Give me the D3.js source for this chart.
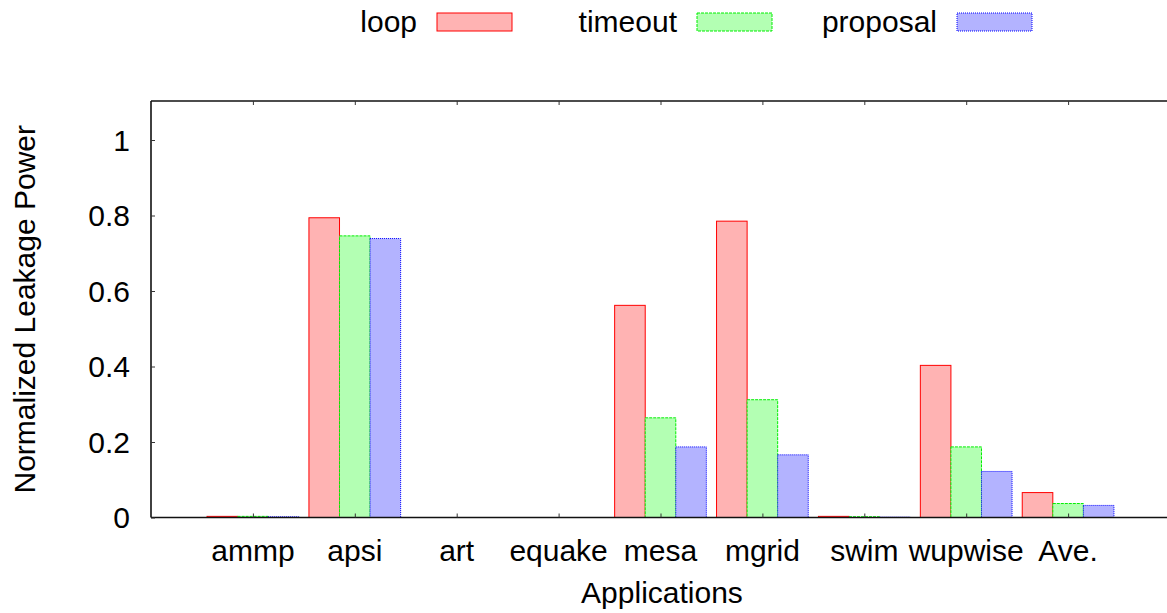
<!DOCTYPE html>
<html>
<head>
<meta charset="utf-8">
<script src="https://cdn.jsdelivr.net/npm/d3@7"></script>
<style>
  html, body { margin: 0; padding: 0; background: #fff; }
  svg { display: block; font-family: "Liberation Sans", Arial, Helvetica, sans-serif; }
</style>
</head>
<body>
<svg id="chart" width="1167" height="613"></svg>
<script>
// ---- data ----
const categories = ["ammp", "apsi", "art", "equake", "mesa", "mgrid", "swim", "wupwise", "Ave."];
const seriesNames = ["loop", "timeout", "proposal"];
const loopValues     = [0.003, 0.794, 0, 0, 0.562, 0.785, 0.003, 0.403, 0.066];
const timeoutValues  = [0.003, 0.746, 0, 0, 0.264, 0.312, 0.002, 0.187, 0.037];
const proposalValues = [0.002, 0.739, 0, 0, 0.187, 0.166, 0.001, 0.122, 0.032];
const yTickValues = [0, 0.2, 0.4, 0.6, 0.8, 1];
const yTickLabels = ["0", "0.2", "0.4", "0.6", "0.8", "1"];
const xAxisTitle = "Applications";
const yAxisTitle = "Normalized Leakage Power";

(function () {
// ---- styles ----
const fills = ["#ffb3b3", "#b3ffb3", "#b3b3ff"];
const strokes = ["#ff0000", "#00ee00", "#0000ff"];
const dashes = [null, "3,1", "1,1"];
const FONT = 30;

const svg = d3.select("#chart");
const pLeft = 151, pTop = 101, pBottom = 517.5, pRight = 1170;

const x = d3.scaleLinear().domain([-1, 9]).range([pLeft, pRight]);
const y = d3.scaleLinear().domain([0, 1.1]).range([pBottom, pBottom - 1.1 * 377.5]);

const series = [loopValues, timeoutValues, proposalValues];
const barW = 0.3;
const offsets = [-0.45, -0.15, 0.15];

// bars
series.forEach((vals, s) => {
  svg.append("g").selectAll("rect")
    .data(vals)
    .join("rect")
    .attr("x", (d, i) => x(i + offsets[s]))
    .attr("width", x(barW) - x(0))
    .attr("y", d => y(d))
    .attr("height", d => Math.max(0, y(0) - y(d)))
    .attr("fill", fills[s])
    .attr("stroke", d => d > 0 ? strokes[s] : "none")
    .attr("stroke-width", 1)
    .attr("stroke-dasharray", dashes[s]);
});

// frame
const frame = svg.append("g").attr("stroke", "#111").attr("stroke-width", 1.6).attr("fill", "none");
frame.append("line").attr("x1", pLeft).attr("x2", pRight).attr("y1", y(0)).attr("y2", y(0));
frame.append("line").attr("x1", pLeft).attr("x2", pRight).attr("y1", pTop).attr("y2", pTop);
frame.append("line").attr("x1", pLeft).attr("x2", pLeft).attr("y1", pTop).attr("y2", y(0));

// y axis (ticks inward)
const yAxis = d3.axisRight(y).tickValues(yTickValues).tickSize(4).tickFormat("");
const gy = svg.append("g").attr("transform", `translate(${pLeft},0)`).call(yAxis);
gy.select(".domain").remove();
gy.selectAll(".tick line").attr("stroke", "#333");
svg.append("g").selectAll("text")
  .data(yTickValues)
  .join("text")
  .attr("x", 130)
  .attr("y", d => y(d))
  .attr("dy", "0.36em")
  .attr("text-anchor", "end")
  .attr("font-size", FONT)
  .attr("fill", "#000")
  .text((d, i) => yTickLabels[i]);

// x axis ticks (bottom, inward) and mirrored top ticks
const xTicks = d3.range(categories.length);
const xAxisB = d3.axisTop(x).tickValues(xTicks).tickSize(4).tickFormat("");
const gxb = svg.append("g").attr("transform", `translate(0,${y(0)})`).call(xAxisB);
gxb.select(".domain").remove();
gxb.selectAll(".tick line").attr("stroke", "#333");
const xAxisT = d3.axisBottom(x).tickValues(xTicks).tickSize(4).tickFormat("");
const gxt = svg.append("g").attr("transform", `translate(0,${pTop})`).call(xAxisT);
gxt.select(".domain").remove();
gxt.selectAll(".tick line").attr("stroke", "#333");

svg.append("g").selectAll("text")
  .data(categories)
  .join("text")
  .attr("x", (d, i) => x(i))
  .attr("y", 561)
  .attr("text-anchor", "middle")
  .attr("font-size", FONT)
  .attr("fill", "#000")
  .text(d => d);

// axis titles
svg.append("text")
  .attr("x", 662).attr("y", 603)
  .attr("text-anchor", "middle")
  .attr("font-size", FONT)
  .text(xAxisTitle);
svg.append("text")
  .attr("transform", `translate(35,${(pTop + pBottom) / 2}) rotate(-90)`)
  .attr("text-anchor", "middle")
  .attr("font-size", FONT)
  .text(yAxisTitle);

// legend
const legendTextX = [417, 677, 937];
const legend = svg.append("g");
seriesNames.forEach((name, s) => {
  legend.append("text")
    .attr("x", legendTextX[s]).attr("y", 32)
    .attr("text-anchor", "end")
    .attr("font-size", FONT)
    .text(name);
  legend.append("rect")
    .attr("x", legendTextX[s] + 20).attr("y", 13)
    .attr("width", 75).attr("height", 18)
    .attr("fill", fills[s])
    .attr("stroke", strokes[s])
    .attr("stroke-width", 1)
    .attr("stroke-dasharray", dashes[s]);
});
})();
</script>
</body>
</html>
